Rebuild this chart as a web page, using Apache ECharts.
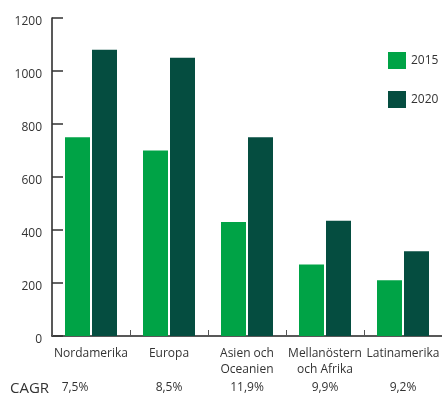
<!DOCTYPE html>
<html>
<head>
<meta charset="utf-8">
<script src="https://cdn.jsdelivr.net/npm/echarts@6/dist/echarts.min.js"></script>
<style>
  html, body { margin: 0; padding: 0; background: #fff; }
  #chart { width: 442px; height: 394px; }
</style>
</head>
<body>
<div id="chart"></div>
<script>
// Regions (two-line names break with \n)
const regions = ['Nordamerika', 'Europa', 'Asien och\nOceanien', 'Mellanöstern\noch Afrika', 'Latinamerika'];
// Market size per region
const values2015 = [750, 700, 430, 270, 210];
const values2020 = [1080, 1050, 750, 435, 320];
// Compound annual growth rate per region
const cagr = ['7,5%', '8,5%', '11,9%', '9,9%', '9,2%'];
const yTicks = { min: 0, max: 1200, interval: 200 };

const FONT = '"Open Sans", "Noto Sans", sans-serif';
const TEXT = '#333';

const chart = echarts.init(document.getElementById('chart'), null, { renderer: 'canvas' });

chart.setOption({
  animation: false,
  textStyle: { fontFamily: FONT },
  grid: { left: 52, right: 0, top: 18, bottom: 58, containLabel: false, outerBoundsMode: 'none' },
  legend: {
    orient: 'vertical',
    left: 388,
    top: 52,
    padding: 0,
    itemWidth: 18,
    itemHeight: 17,
    itemGap: 22,
    icon: 'rect',
    textStyle: { fontFamily: FONT, fontSize: 12, color: TEXT },
    data: ['2015', '2020']
  },
  xAxis: [
    {
      type: 'category',
      data: regions,
      axisLine: { lineStyle: { color: '#222', width: 1.5 } },
      axisTick: { show: true, inside: true, length: 6, lineStyle: { color: '#555' } },
      axisLabel: {
        interval: 0, margin: 10, fontFamily: FONT, fontSize: 12, lineHeight: 16, color: TEXT
      }
    },
    {
      type: 'category',
      position: 'bottom',
      offset: 38,
      data: regions,
      axisLine: { show: false },
      axisTick: { show: false },
      axisLabel: {
        interval: 0, margin: 8, fontFamily: FONT, fontSize: 12, color: TEXT,
        formatter: (v, i) => i === 0 ? '{first|' + cagr[i] + '}' : cagr[i],
        rich: {
          first: { fontFamily: FONT, fontSize: 12, color: TEXT, padding: [0, 32, 0, 0] }
        }
      }
    }
  ],
  yAxis: {
    type: 'value',
    min: yTicks.min,
    max: yTicks.max,
    interval: yTicks.interval,
    axisLine: { show: true, lineStyle: { color: '#222', width: 1.5 } },
    axisTick: { show: true, inside: true, length: 11, lineStyle: { color: '#333', width: 1.5 } },
    splitLine: { show: false },
    axisLabel: {
      margin: 10, fontFamily: FONT, fontSize: 12, color: TEXT,
      formatter: v => '{v|' + String(v) + '}',
      rich: { v: { fontFamily: FONT, fontSize: 12, color: TEXT, padding: [8, 0, 0, 0] } }
    }
  },
  graphic: [
    {
      type: 'text',
      left: 10,
      top: 381,
      style: { text: 'CAGR', fontFamily: FONT, fontSize: 15, fill: TEXT }
    }
  ],
  series: [
    {
      name: '2015',
      type: 'bar',
      data: values2015,
      barWidth: 25,
      barGap: '8%',
      itemStyle: { color: '#00a346' }
    },
    {
      name: '2020',
      type: 'bar',
      data: values2020,
      barWidth: 25,
      itemStyle: { color: '#054d40' }
    }
  ]
});
</script>
</body>
</html>
